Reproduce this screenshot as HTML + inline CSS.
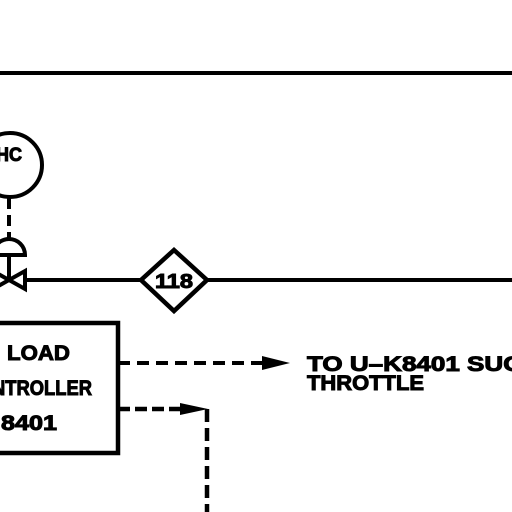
<!DOCTYPE html>
<html><head><style>
html,body{margin:0;padding:0;background:#fff;width:512px;height:512px;overflow:hidden}
svg text{font-family:"Liberation Sans",sans-serif;font-weight:bold;fill:#000;stroke:#000;stroke-width:1}
</style></head><body>
<svg width="512" height="512" viewBox="0 0 512 512" xmlns="http://www.w3.org/2000/svg">
<g stroke="#000" stroke-width="4" fill="none">
<line x1="0" y1="73" x2="512" y2="73"/>
<circle cx="10" cy="165" r="32"/>
<line x1="9" y1="198" x2="9" y2="238" stroke-dasharray="11,6"/>
<path d="M-7 255 A16 16 0 0 1 25 255 Z"/>
<line x1="9" y1="255" x2="9" y2="280"/>
<path d="M9 280 L25 271 L25 289 Z"/>
<path d="M9 280 L-7 271 L-7 289 Z"/>
<line x1="25" y1="280" x2="141" y2="280"/>
<line x1="207" y1="280" x2="512" y2="280"/>
<path d="M174 250 L207 280 L174 311 L141 280 Z" stroke-width="4.5"/>
<rect x="-10" y="323" width="128" height="130" stroke-width="4.5"/>
<line x1="118" y1="363" x2="262" y2="363" stroke-dasharray="12,7"/>
<line x1="118" y1="409" x2="180" y2="409" stroke-dasharray="12,5" stroke-width="4.5"/>
<line x1="207" y1="409" x2="207" y2="512" stroke-dasharray="13,6" stroke-width="4.5"/>
</g>
<path d="M262 356 L290 363 L262 370 Z" fill="#000"/>
<path d="M180 403 L208 409 L180 415 Z" fill="#000"/>
<text x="-4" y="161" font-size="19" textLength="26" lengthAdjust="spacingAndGlyphs">HC</text>
<text x="174" y="288" font-size="20" text-anchor="middle" textLength="38" lengthAdjust="spacingAndGlyphs">118</text>
<text x="7" y="360" font-size="21" textLength="63" lengthAdjust="spacingAndGlyphs">LOAD</text>
<text x="-8" y="395" font-size="21" textLength="100" lengthAdjust="spacingAndGlyphs">NTROLLER</text>
<text x="1" y="430" font-size="21" textLength="56" lengthAdjust="spacingAndGlyphs">8401</text>
<text x="307" y="371" font-size="21" textLength="215" lengthAdjust="spacingAndGlyphs">TO U–K8401 SUC</text>
<text x="307" y="390" font-size="21" textLength="117" lengthAdjust="spacingAndGlyphs">THROTTLE</text>
</svg>
</body></html>
